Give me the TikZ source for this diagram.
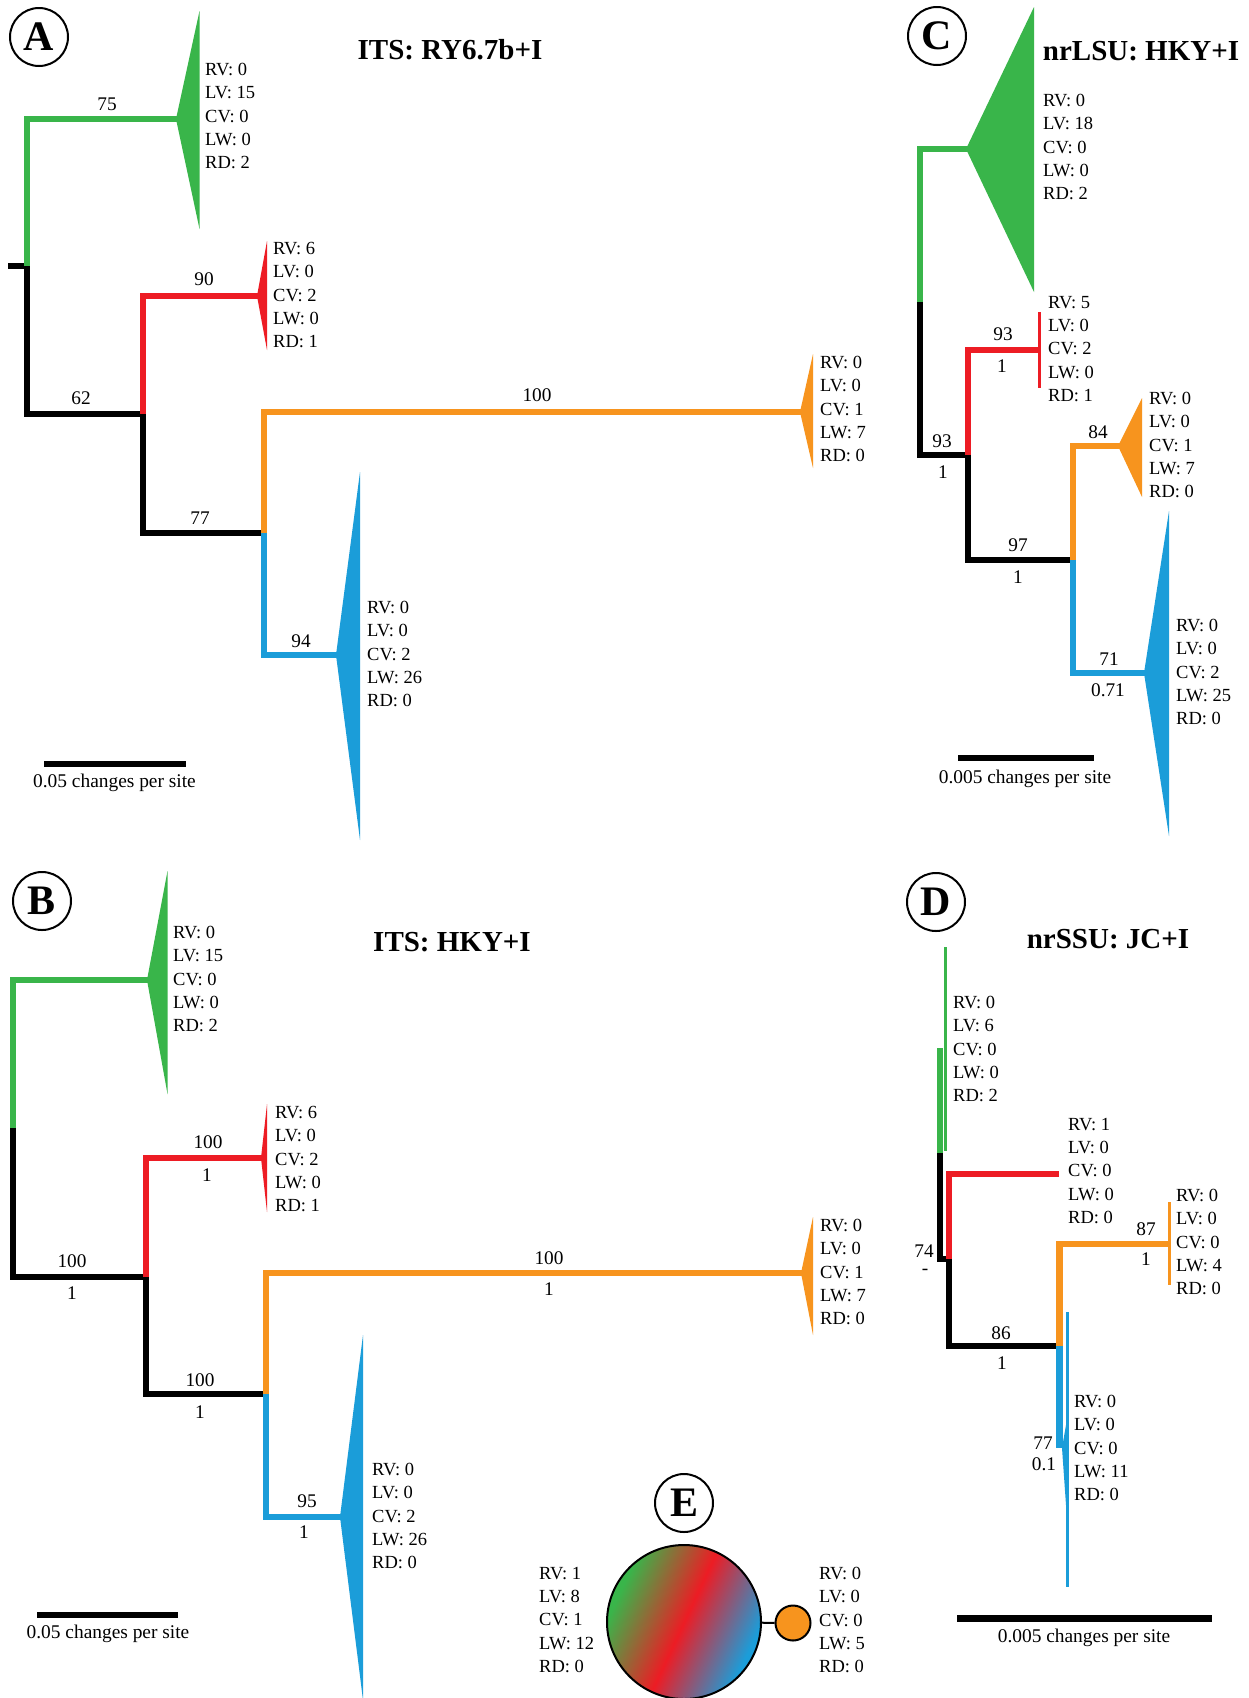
\documentclass[tikz,border=0pt]{standalone}
\usepackage{fontspec}
\setmainfont{Liberation Serif}
\definecolor{cg}{RGB}{57,181,74}
\definecolor{cr}{RGB}{237,28,36}
\definecolor{co}{RGB}{247,148,30}
\definecolor{cb}{RGB}{27,157,217}
\pgfdeclarehorizontalshading{Eshade}{100bp}{color(0bp)=(cg); color(27bp)=(cg); color(50bp)=(cr); color(73bp)=(cb); color(100bp)=(cb)}
\begin{document}
\begin{tikzpicture}[x=1pt,y=-1pt,
 br/.style={line width=6.5pt},
 tbar/.style={line width=3pt},
 blk/.style={font=\fontsize{18.5}{23.3}\selectfont, inner sep=0pt, align=left, anchor=west},
 num/.style={font=\fontsize{19.3}{23}\selectfont, inner sep=0pt},
 ttl/.style={font=\bfseries\fontsize{29}{34}\selectfont, inner sep=0pt},
 pan/.style={circle, draw, line width=2pt, minimum size=58pt, inner sep=0pt, font=\bfseries\fontsize{42}{42}\selectfont},
 sbar/.style={line width=6pt},
 stxt/.style={font=\fontsize{19.4}{23}\selectfont, inner sep=0pt, anchor=base},
]
\fill[white] (0,0) rectangle (1249,1698);
\useasboundingbox (0,0) rectangle (1249,1698);

% ================= Panel A =================
\node[pan] (pA) at (39,37) {A};
\node[ttl] (TA) at (450,50) {ITS: RY6.7b+I};
\coordinate (As) at (8,266);
\coordinate (Ar) at (27,266);
\coordinate (A1) at (143,414);
\coordinate (A2) at (264,533);
\coordinate (Ag) at (178,119);
\coordinate (Ae) at (259,296);
\coordinate (Ao) at (802,412);
\coordinate (Ab) at (338,655);
\draw[br] (As) -- (Ar);
\draw[br] (Ar) |- (A1) |- (A2);
\draw[br,cg] (Ar) |- (Ag);
\draw[br,cr] (A1) |- (Ae);
\draw[br,co] (A2) |- (Ao);
\draw[br,cb] (A2) |- (Ab);
\fill[cg] (176,119) -- (199.5,11) -- (199.5,229) -- cycle;
\fill[cr] (257,296) -- (267,241) -- (267,350) -- cycle;
\fill[co] (800,412) -- (813,354) -- (813,468) -- cycle;
\fill[cb] (336,655) -- (360,472) -- (360,840) -- cycle;
\node[num] (lA1) at (107,104) {75};
\node[num] (lA2) at (204,279) {90};
\node[num] (lA3) at (81,398) {62};
\node[num] (lA4) at (200,518) {77};
\node[num] (lA5) at (537,395) {100};
\node[num] (lA6) at (301,641) {94};
\node[blk] (tA1) at (205,116) {RV: 0\\LV: 15\\CV: 0\\LW: 0\\RD: 2};
\node[blk] (tA2) at (273,295) {RV: 6\\LV: 0\\CV: 2\\LW: 0\\RD: 1};
\node[blk] (tA3) at (820,409) {RV: 0\\LV: 0\\CV: 1\\LW: 7\\RD: 0};
\node[blk] (tA4) at (367,654) {RV: 0\\LV: 0\\CV: 2\\LW: 26\\RD: 0};
\coordinate (sA1) at (44,764);
\coordinate (sA2) at (186,764);
\draw[sbar] (sA1) -- (sA2);
\node[stxt] (sAt) at (114.5,787) {0.05 changes per site};

% ================= Panel C =================
\node[pan] (pC) at (937,36) {C};
\node[ttl] (TC) at (1141,51) {nrLSU: HKY+I};
\coordinate (Cr) at (920,302);
\coordinate (C1) at (968,455);
\coordinate (C2) at (1073,560);
\coordinate (Cg) at (968,149);
\coordinate (Ce) at (1039,350);
\coordinate (Co) at (1120,446);
\coordinate (Cb) at (1146,673);
\draw[br] (Cr) |- (C1) |- (C2);
\draw[br,cg] (Cr) |- (Cg);
\draw[br,cr] (C1) |- (Ce);
\draw[br,co] (C2) |- (Co);
\draw[br,cb] (C2) |- (Cb);
\fill[cg] (966,149) -- (1034,7) -- (1034,292) -- cycle;
\draw[tbar,cr] (1039,312) -- (1039,388);
\fill[co] (1118,446) -- (1142,398) -- (1142,497) -- cycle;
\fill[cb] (1144,673) -- (1169,511) -- (1169,836) -- cycle;
\node[num] (lC1) at (1003,334) {93};
\node[num] (lC2) at (1002,366) {1};
\node[num] (lC3) at (942,441) {93};
\node[num] (lC4) at (943,472) {1};
\node[num] (lC5) at (1098,432) {84};
\node[num] (lC6) at (1018,545) {97};
\node[num] (lC7) at (1018,577) {1};
\node[num] (lC8) at (1109,659) {71};
\node[num] (lC9) at (1108,690) {0.71};
\node[blk] (tC1) at (1043,147) {RV: 0\\LV: 18\\CV: 0\\LW: 0\\RD: 2};
\node[blk] (tC2) at (1048,349) {RV: 5\\LV: 0\\CV: 2\\LW: 0\\RD: 1};
\node[blk] (tC3) at (1149,445) {RV: 0\\LV: 0\\CV: 1\\LW: 7\\RD: 0};
\node[blk] (tC4) at (1176,672) {RV: 0\\LV: 0\\CV: 2\\LW: 25\\RD: 0};
\coordinate (sC1) at (958,758);
\coordinate (sC2) at (1094,758);
\draw[sbar] (sC1) -- (sC2);
\node[stxt] (sCt) at (1025,783) {0.005 changes per site};

% ================= Panel B =================
\node[pan] (pB) at (42,901) {B};
\node[ttl] (TB) at (452,942) {ITS: HKY+I};
\coordinate (Br) at (13,1128);
\coordinate (B1) at (146,1277);
\coordinate (B2) at (266,1394);
\coordinate (Bg) at (149,980);
\coordinate (Be) at (263,1158);
\coordinate (Bo) at (803,1273);
\coordinate (Bb) at (342,1517);
\draw[br] (Br) |- (B1) |- (B2);
\draw[br,cg] (Br) |- (Bg);
\draw[br,cr] (B1) |- (Be);
\draw[br,co] (B2) |- (Bo);
\draw[br,cb] (B2) |- (Bb);
\fill[cg] (147,980) -- (167.5,871) -- (167.5,1094) -- cycle;
\fill[cr] (261,1158) -- (267,1104) -- (267,1212) -- cycle;
\fill[co] (801,1273) -- (813,1217) -- (813,1335) -- cycle;
\fill[cb] (340,1517) -- (363,1335) -- (363,1700) -- cycle;
\node[num] (lB1) at (208,1142) {100};
\node[num] (lB2) at (207,1175) {1};
\node[num] (lB3) at (72,1261) {100};
\node[num] (lB4) at (72,1293) {1};
\node[num] (lB5) at (200,1380) {100};
\node[num] (lB6) at (200,1412) {1};
\node[num] (lB7) at (549,1258) {100};
\node[num] (lB8) at (549,1289) {1};
\node[num] (lB9) at (307,1501) {95};
\node[num] (lB10) at (304,1532) {1};
\node[blk] (tB1) at (173,979) {RV: 0\\LV: 15\\CV: 0\\LW: 0\\RD: 2};
\node[blk] (tB2) at (275,1159) {RV: 6\\LV: 0\\CV: 2\\LW: 0\\RD: 1};
\node[blk] (tB3) at (820,1272) {RV: 0\\LV: 0\\CV: 1\\LW: 7\\RD: 0};
\node[blk] (tB4) at (372,1516) {RV: 0\\LV: 0\\CV: 2\\LW: 26\\RD: 0};
\coordinate (sB1) at (37,1615);
\coordinate (sB2) at (178,1615);
\draw[sbar] (sB1) -- (sB2);
\node[stxt] (sBt) at (108,1638) {0.05 changes per site};

% ================= Panel D =================
\node[pan] (pD) at (936,902) {D};
\node[ttl] (TD) at (1108,939) {nrSSU: JC+I};
\coordinate (Dr) at (940,1153);
\coordinate (D1) at (949,1259);
\coordinate (D2) at (1059.5,1346);
\coordinate (Dg) at (940,1048);
\coordinate (De) at (1059,1174);
\coordinate (Do) at (1169,1244);
\coordinate (Db) at (1059.5,1448);
\draw[br] (Dr) |- (D1) |- (D2);
\draw[br,cg] (Dr) -- (Dg);
\draw[br,cr] (D1) |- (De);
\draw[br,co] (D2) |- (Do);
\draw[br,cb] (D2) -- (Db);
\fill[cg] (943.5,947) rectangle (946.5,1151);
\draw[tbar,co] (1169,1202) -- (1169,1285);
\fill[cb] (1065.5,1312) rectangle (1068.5,1587);
\fill[cb] (1062,1448) -- (1066,1425) -- (1066,1505) -- cycle;
\node[num] (lD1) at (924,1251) {74};
\node[num] (lD2) at (925,1272) {-};
\node[num] (lD3) at (1001,1333) {86};
\node[num] (lD4) at (1002,1363) {1};
\node[num] (lD5) at (1146,1229) {87};
\node[num] (lD6) at (1146,1259) {1};
\node[num] (lD7) at (1043,1443) {77};
\node[num] (lD8) at (1044,1464) {0.1};
\node[blk] (tD1) at (953,1049) {RV: 0\\LV: 6\\CV: 0\\LW: 0\\RD: 2};
\node[blk] (tD2) at (1068,1171) {RV: 1\\LV: 0\\CV: 0\\LW: 0\\RD: 0};
\node[blk] (tD3) at (1176,1242) {RV: 0\\LV: 0\\CV: 0\\LW: 4\\RD: 0};
\node[blk] (tD4) at (1074,1448) {RV: 0\\LV: 0\\CV: 0\\LW: 11\\RD: 0};
\coordinate (sD1) at (957,1618);
\coordinate (sD2) at (1212,1618);
\draw[sbar,line width=7pt] (sD1) -- (sD2);
\node[stxt] (sDt) at (1084,1642) {0.005 changes per site};

% ================= Panel E =================
\node[pan] (pE) at (684,1503) {E};
\node[circle, draw, line width=2pt, minimum size=154pt, inner sep=0pt, shade, shading=Eshade, shading angle=-25] (Eb) at (684,1622) {};
\node[circle, draw, line width=2pt, fill=co, minimum size=35pt, inner sep=0pt] (Es) at (793,1623) {};
\draw[line width=2pt] (Eb) -- (Es);
\node[blk] (tE1) at (539,1620) {RV: 1\\LV: 8\\CV: 1\\LW: 12\\RD: 0};
\node[blk] (tE2) at (819,1620) {RV: 0\\LV: 0\\CV: 0\\LW: 5\\RD: 0};
\end{tikzpicture}
\end{document}
